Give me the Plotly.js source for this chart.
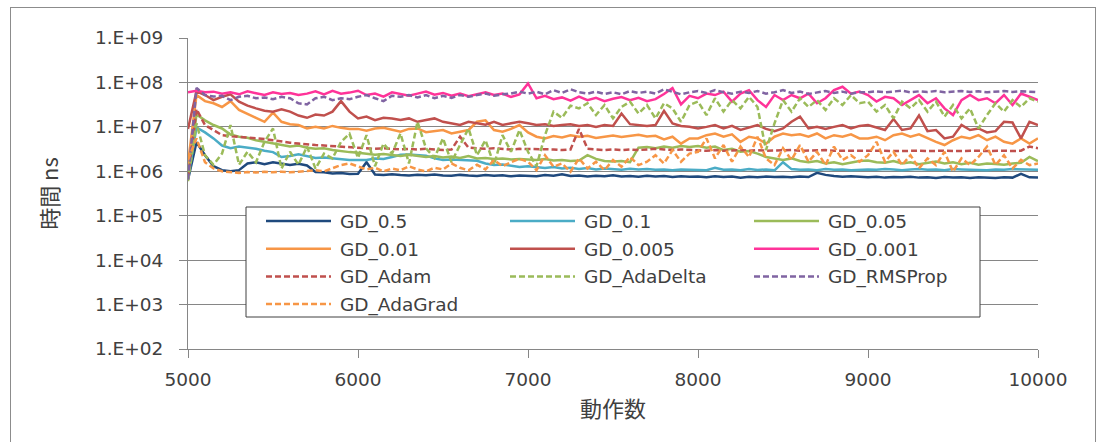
<!DOCTYPE html>
<html>
<head>
<meta charset="utf-8">
<script src="https://cdn.plot.ly/plotly-3.0.1.min.js"></script>
<style>
  html, body { margin: 0; padding: 0; background: #ffffff; }
  #frame { position: absolute; left: 10px; top: 7px; width: 1086px; height: 470px;
           border: 1px solid #8c8c8c; box-sizing: border-box; }
  #chart { position: absolute; left: 0; top: 0; width: 1099px; height: 442px; }
</style>
</head>
<body>
<div id="frame"></div>
<div id="chart"></div>
<script>
// Number of actions (x axis)
const actions = [
  5000, 5050, 5100, 5150, 5200, 5250, 5300, 5350, 5400, 5450,
  5500, 5550, 5600, 5650, 5700, 5750, 5800, 5850, 5900, 5950,
  6000, 6050, 6100, 6150, 6200, 6250, 6300, 6350, 6400, 6450,
  6500, 6550, 6600, 6650, 6700, 6750, 6800, 6850, 6900, 6950,
  7000, 7050, 7100, 7150, 7200, 7250, 7300, 7350, 7400, 7450,
  7500, 7550, 7600, 7650, 7700, 7750, 7800, 7850, 7900, 7950,
  8000, 8050, 8100, 8150, 8200, 8250, 8300, 8350, 8400, 8450,
  8500, 8550, 8600, 8650, 8700, 8750, 8800, 8850, 8900, 8950,
  9000, 9050, 9100, 9150, 9200, 9250, 9300, 9350, 9400, 9450,
  9500, 9550, 9600, 9650, 9700, 9750, 9800, 9850, 9900, 9950,
  10000
];

// Elapsed time in ns for each optimiser
const gd_0_5 = [
  6.5e5, 4.5e6, 2.3e6, 1.3e6, 1.06e6, 1.0e6, 1.06e6, 1.5e6, 1.6e6, 1.45e6,
  1.6e6, 1.5e6, 1.38e6, 1.48e6, 1.35e6, 9.6e5, 9.5e5, 8.9e5, 9.2e5, 8.7e5,
  8.8e5, 1.6e6, 8.5e5, 8.3e5, 8.6e5, 8.2e5, 8.0e5, 8.4e5, 8.1e5, 8.5e5,
  8.0e5, 7.9e5, 8.3e5, 8.0e5, 7.8e5, 8.2e5, 7.9e5, 8.1e5, 7.7e5, 8.0e5,
  8.0e5, 7.7e5, 8.2e5, 7.9e5, 8.6e5, 7.8e5, 8.0e5, 7.6e5, 7.9e5, 7.7e5,
  8.1e5, 7.6e5, 7.8e5, 7.5e5, 7.9e5, 7.6e5, 7.8e5, 7.4e5, 7.7e5, 7.5e5,
  7.6e5, 7.3e5, 7.7e5, 7.4e5, 7.6e5, 7.2e5, 7.5e5, 7.3e5, 7.6e5, 7.4e5,
  7.5e5, 7.3e5, 7.6e5, 7.4e5, 9.2e5, 8.3e5, 7.8e5, 7.5e5, 7.7e5, 7.4e5,
  7.3e5, 7.5e5, 7.2e5, 7.4e5, 7.3e5, 7.5e5, 7.2e5, 7.3e5, 7.1e5, 7.4e5,
  7.2e5, 7.3e5, 7.1e5, 7.3e5, 7.2e5, 7.1e5, 7.3e5, 7.2e5, 8.8e5, 7.3e5,
  7.2e5
];
const gd_0_1 = [
  7.0e5, 9.7e6, 7.5e6, 5.5e6, 3.8e6, 3.3e6, 3.6e6, 3.4e6, 3.2e6, 2.9e6,
  2.7e6, 2.1e6, 2.2e6, 2.4e6, 2.15e6, 2.0e6, 2.05e6, 1.95e6, 1.9e6, 1.8e6,
  1.8e6, 1.8e6, 1.95e6, 1.9e6, 2.1e6, 2.35e6, 2.4e6, 2.3e6, 2.25e6, 1.95e6,
  1.8e6, 1.85e6, 1.82e6, 1.77e6, 1.72e6, 1.5e6, 1.38e6, 1.42e6, 1.34e6, 1.25e6,
  1.3e6, 1.22e6, 1.18e6, 1.25e6, 1.15e6, 1.2e6, 1.12e6, 1.18e6, 1.1e6, 1.15e6,
  1.12e6, 1.08e6, 1.14e6, 1.1e6, 1.12e6, 1.08e6, 1.1e6, 1.06e6, 1.1e6, 1.08e6,
  1.1e6, 1.06e6, 1.2e6, 1.08e6, 1.1e6, 1.05e6, 1.12e6, 1.07e6, 1.1e6, 1.05e6,
  1.6e6, 1.12e6, 1.08e6, 1.1e6, 1.06e6, 1.12e6, 1.08e6, 1.1e6, 1.06e6, 1.1e6,
  1.1e6, 1.08e6, 1.12e6, 1.1e6, 1.06e6, 1.1e6, 1.12e6, 1.08e6, 1.1e6, 1.06e6,
  1.12e6, 1.1e6, 1.08e6, 1.1e6, 1.05e6, 1.1e6, 1.08e6, 1.12e6, 1.1e6, 1.06e6,
  1.08e6
];
const gd_0_05 = [
  8.0e5, 1.9e7, 1.4e7, 1.1e7, 9.2e6, 6.7e6, 6.0e6, 5.7e6, 5.0e6, 4.6e6,
  4.2e6, 3.9e6, 3.6e6, 3.8e6, 3.4e6, 3.2e6, 3.3e6, 3.0e6, 2.9e6, 2.7e6,
  2.6e6, 2.5e6, 2.35e6, 2.45e6, 2.3e6, 2.2e6, 2.35e6, 2.25e6, 2.1e6, 2.2e6,
  2.05e6, 2.15e6, 2.0e6, 2.2e6, 1.95e6, 2.0e6, 1.9e6, 1.95e6, 1.85e6, 1.9e6,
  1.85e6, 1.8e6, 1.9e6, 1.75e6, 1.8e6, 1.7e6, 1.75e6, 2.3e6, 1.9e6, 1.7e6,
  1.65e6, 1.7e6, 1.6e6, 3.4e6, 3.5e6, 3.3e6, 3.6e6, 3.4e6, 3.7e6, 3.5e6,
  3.7e6, 3.4e6, 3.6e6, 3.0e6, 3.2e6, 2.75e6, 2.85e6, 2.5e6, 2.1e6, 1.95e6,
  1.8e6, 1.95e6, 1.7e6, 1.6e6, 1.7e6, 1.5e6, 1.6e6, 1.45e6, 1.6e6, 1.7e6,
  1.75e6, 1.6e6, 1.55e6, 1.7e6, 1.5e6, 1.6e6, 1.45e6, 1.55e6, 1.65e6, 1.5e6,
  1.6e6, 1.45e6, 1.55e6, 1.4e6, 1.5e6, 1.45e6, 1.4e6, 1.5e6, 1.55e6, 2.1e6,
  1.7e6
];
const gd_0_01 = [
  1.5e6, 5.2e7, 3.8e7, 3.4e7, 2.8e7, 3.8e7, 2.4e7, 2.0e7, 1.6e7, 1.3e7,
  2.1e7, 1.3e7, 1.15e7, 1.1e7, 9.2e6, 1.0e7, 9.2e6, 1.05e7, 9.5e6, 9.0e6,
  9.0e6, 8.2e6, 9.2e6, 9.5e6, 8.5e6, 7.8e6, 9.0e6, 9.2e6, 7.6e6, 8.0e6,
  8.5e6, 7.1e6, 7.8e6, 8.5e6, 1.3e7, 1.4e7, 8.5e6, 7.8e6, 9.0e6, 1.1e7,
  7.5e6, 6.0e6, 5.5e6, 6.2e6, 5.8e6, 6.5e6, 6.0e6, 6.3e6, 5.6e6, 6.0e6,
  6.4e6, 5.9e6, 6.2e6, 6.6e6, 6.1e6, 6.3e6, 5.2e6, 6.0e6, 4.2e6, 5.5e6,
  5.5e6, 6.5e6, 7.1e6, 6.0e6, 6.8e6, 4.6e6, 6.0e6, 5.5e6, 4.2e6, 6.0e6,
  7.1e6, 6.5e6, 6.8e6, 6.0e6, 7.1e6, 5.5e6, 6.5e6, 6.0e6, 6.8e6, 5.5e6,
  5.5e6, 6.0e6, 5.0e6, 6.5e6, 7.1e6, 6.0e6, 6.8e6, 5.5e6, 4.6e6, 3.9e6,
  5.0e6, 6.0e6, 5.5e6, 6.5e6, 5.0e6, 6.0e6, 4.6e6, 4.2e6, 5.5e6, 4.2e6,
  5.5e6
];
const gd_0_005 = [
  9.0e6, 6.3e7, 5.2e7, 4.0e7, 4.75e7, 5.4e7, 3.7e7, 3.0e7, 2.6e7, 2.3e7,
  2.2e7, 2.5e7, 2.2e7, 1.8e7, 1.6e7, 1.9e7, 1.8e7, 2.2e7, 3.8e7, 2.2e7,
  1.55e7, 1.7e7, 1.42e7, 1.6e7, 1.55e7, 1.42e7, 1.55e7, 1.3e7, 1.42e7, 1.55e7,
  1.3e7, 1.2e7, 1.1e7, 1.3e7, 1.2e7, 1.12e7, 1.3e7, 1.1e7, 1.2e7, 1.3e7,
  1.2e7, 1.1e7, 1.15e7, 1.05e7, 1.1e7, 1.15e7, 1.05e7, 1.1e7, 1.0e7, 1.1e7,
  1.05e7, 2.0e7, 1.15e7, 1.1e7, 1.05e7, 1.1e7, 2.3e7, 1.2e7, 1.05e7, 1.0e7,
  9.2e6, 1.0e7, 1.1e7, 9.2e6, 1.05e7, 8.5e6, 9.5e6, 1.1e7, 9.0e6, 8.0e6,
  9.2e6, 1.3e7, 1.7e7, 9.2e6, 1.0e7, 9.0e6, 1.0e7, 1.1e7, 9.2e6, 1.05e7,
  1.1e7, 9.5e6, 8.5e6, 1.5e7, 8.5e6, 9.2e6, 1.8e7, 8.0e6, 8.5e6, 5.5e6,
  6.0e6, 1.1e7, 8.5e6, 9.2e6, 7.5e6, 8.0e6, 1.3e7, 1.25e7, 5.5e6, 1.3e7,
  1.1e7
];
const gd_0_001 = [
  6.0e7, 6.5e7, 6.0e7, 6.2e7, 5.6e7, 6.0e7, 5.4e7, 6.3e7, 5.7e7, 5.2e7,
  6.0e7, 5.5e7, 5.8e7, 5.2e7, 5.6e7, 6.3e7, 5.4e7, 6.5e7, 5.6e7, 5.9e7,
  6.5e7, 5.2e7, 5.6e7, 4.8e7, 6.0e7, 5.5e7, 5.0e7, 5.6e7, 6.2e7, 5.3e7,
  5.8e7, 5.0e7, 5.6e7, 4.9e7, 5.5e7, 6.0e7, 5.2e7, 5.6e7, 4.7e7, 5.4e7,
  9.5e7, 4.4e7, 5.0e7, 4.2e7, 4.6e7, 3.9e7, 4.8e7, 4.0e7, 4.5e7, 3.8e7,
  4.3e7, 4.7e7, 4.0e7, 4.5e7, 3.8e7, 4.2e7, 5.5e7, 7.5e7, 3.2e7, 5.0e7,
  4.4e7, 5.6e7, 5.2e7, 6.2e7, 3.7e7, 5.6e7, 6.7e7, 4.0e7, 2.8e7, 5.2e7,
  4.0e7, 5.2e7, 4.4e7, 5.6e7, 3.4e7, 4.4e7, 6.7e7, 8.0e7, 5.6e7, 6.2e7,
  5.2e7, 3.7e7, 4.75e7, 4.4e7, 3.1e7, 4.0e7, 5.2e7, 3.4e7, 4.4e7, 2.6e7,
  1.84e7, 4.0e7, 5.2e7, 4.0e7, 4.4e7, 3.4e7, 5.2e7, 3.1e7, 5.6e7, 4.75e7,
  4.0e7
];
const gd_adam = [
  7.0e5, 2.5e7, 1.1e7, 8.5e6, 6.5e6, 6.2e6, 6.0e6, 5.8e6, 5.6e6, 5.3e6,
  5.0e6, 4.6e6, 4.4e6, 4.2e6, 4.0e6, 3.9e6, 3.8e6, 3.7e6, 3.6e6, 3.4e6,
  3.3e6, 3.3e6, 3.2e6, 3.3e6, 3.2e6, 3.1e6, 3.2e6, 3.1e6, 3.2e6, 3.1e6,
  3.0e6, 3.1e6, 6.0e6, 3.4e6, 3.3e6, 3.2e6, 3.3e6, 3.2e6, 3.1e6, 3.2e6,
  3.2e6, 3.1e6, 3.2e6, 3.1e6, 3.0e6, 3.1e6, 9.0e6, 3.2e6, 3.1e6, 3.0e6,
  3.1e6, 3.0e6, 3.1e6, 3.0e6, 3.1e6, 3.2e6, 3.1e6, 3.0e6, 3.1e6, 3.0e6,
  3.0e6, 2.9e6, 3.0e6, 2.9e6, 2.95e6, 3.0e6, 2.9e6, 3.0e6, 2.9e6, 2.95e6,
  2.9e6, 3.0e6, 2.9e6, 2.95e6, 2.9e6, 3.0e6, 2.9e6, 2.9e6, 3.0e6, 2.9e6,
  2.9e6, 2.95e6, 2.9e6, 2.85e6, 2.9e6, 2.95e6, 2.9e6, 2.85e6, 2.9e6, 2.9e6,
  2.85e6, 2.9e6, 2.95e6, 2.9e6, 2.85e6, 2.9e6, 2.9e6, 2.85e6, 2.9e6, 3.6e6,
  3.3e6
];
const gd_adadelta = [
  6.0e5, 1.2e7, 2.3e6, 1.4e6, 2.5e6, 1.1e7, 1.4e6, 2.75e6, 1.6e6, 4.6e6,
  9.2e6, 1.15e6, 2.75e6, 1.4e6, 3.6e6, 1.15e6, 2.5e6, 1.95e6, 4.6e6, 7.0e6,
  2.0e6, 6.5e6, 1.3e6, 4.2e6, 2.5e6, 7.1e6, 1.5e6, 1.3e7, 3.3e6, 2.0e6,
  5.5e6, 1.6e6, 3.9e6, 9.2e6, 2.3e6, 5.0e6, 1.4e6, 6.5e6, 2.75e6, 8.5e6,
  2.75e6, 1.3e6, 6.5e6, 2.2e7, 1.6e7, 3.0e7, 2.6e7, 3.4e7, 1.84e7, 3.1e7,
  1.55e7, 2.8e7, 3.7e7, 2.0e7, 3.1e7, 1.55e7, 3.4e7, 2.6e7, 1.3e7, 3.1e7,
  3.7e7, 1.84e7, 4.4e7, 2.2e7, 4.0e7, 2.6e7, 4.75e7, 2.8e7, 3.0e6, 1.2e7,
  4.0e7, 2.2e7, 4.4e7, 2.8e7, 4.0e7, 2.4e7, 4.4e7, 3.1e7, 5.2e7, 3.4e7,
  3.7e7, 2.2e7, 3.1e7, 1.55e7, 3.7e7, 2.6e7, 4.0e7, 2.2e7, 3.7e7, 1.7e7,
  3.1e7, 1.55e7, 2.6e7, 9.2e6, 1.84e7, 3.4e7, 2.2e7, 4.0e7, 2.8e7, 4.4e7,
  3.7e7
];
const gd_rmsprop = [
  6.5e5, 7.5e7, 5.2e7, 4.8e7, 5.0e7, 4.0e7, 4.75e7, 5.0e7, 4.4e7, 4.6e7,
  4.2e7, 4.75e7, 4.4e7, 3.4e7, 3.2e7, 4.4e7, 4.75e7, 4.0e7, 4.4e7, 4.2e7,
  4.75e7, 5.2e7, 4.4e7, 3.8e7, 5.0e7, 4.75e7, 5.2e7, 4.6e7, 5.2e7, 4.4e7,
  5.0e7, 4.5e7, 5.2e7, 4.75e7, 5.2e7, 5.6e7, 5.0e7, 5.4e7, 5.6e7, 6.2e7,
  5.6e7, 6.2e7, 5.4e7, 6.7e7, 5.8e7, 7.0e7, 6.0e7, 5.6e7, 6.2e7, 5.5e7,
  6.0e7, 5.4e7, 6.4e7, 5.8e7, 6.2e7, 5.6e7, 7.0e7, 6.2e7, 5.4e7, 6.0e7,
  6.4e7, 5.8e7, 6.7e7, 6.0e7, 5.6e7, 6.2e7, 5.8e7, 6.4e7, 5.6e7, 6.0e7,
  6.7e7, 5.8e7, 6.2e7, 5.5e7, 6.0e7, 6.4e7, 5.8e7, 6.2e7, 5.6e7, 6.0e7,
  6.0e7, 6.3e7, 6.0e7, 6.2e7, 6.5e7, 6.0e7, 6.3e7, 6.1e7, 6.4e7, 6.0e7,
  6.2e7, 6.4e7, 6.1e7, 6.3e7, 6.0e7, 6.2e7, 6.4e7, 6.1e7, 6.3e7, 6.2e7,
  6.0e7
];
const gd_adagrad = [
  1.8e6, 5.5e6, 1.6e6, 1.16e6, 1.0e6, 9.6e5, 9.2e5, 9.6e5, 9.4e5, 9.8e5,
  9.5e5, 9.8e5, 9.5e5, 9.8e5, 1.0e6, 1.05e6, 1.0e6, 1.16e6, 1.38e6, 1.5e6,
  1.3e6, 1.1e6, 1.2e6, 1.0e6, 1.15e6, 1.05e6, 1.3e6, 1.1e6, 1.0e6, 1.2e6,
  1.1e6, 1.5e6, 1.2e6, 1.05e6, 1.4e6, 1.1e6, 1.8e6, 1.3e6, 1.6e6, 1.9e6,
  1.64e6, 1.06e6, 2.3e6, 1.27e6, 1.5e6, 9.8e5, 1.95e6, 1.16e6, 1.64e6, 1.06e6,
  1.8e6, 1.27e6, 2.1e6, 1.38e6, 1.64e6, 2.3e6, 1.5e6, 3.0e6, 1.64e6, 2.5e6,
  2.75e6, 5.5e6, 1.95e6, 3.9e6, 1.64e6, 3.6e6, 2.1e6, 6.0e6, 1.95e6, 1.38e6,
  3.3e6, 1.8e6, 3.9e6, 1.64e6, 2.75e6, 1.38e6, 3.6e6, 1.8e6, 2.3e6, 1.64e6,
  2.3e6, 4.6e6, 1.64e6, 2.75e6, 1.38e6, 2.3e6, 1.16e6, 1.95e6, 1.38e6, 2.75e6,
  9.8e5, 1.95e6, 1.38e6, 2.1e6, 3.6e6, 1.38e6, 2.3e6, 1.16e6, 1.8e6, 1.38e6,
  1.5e6
];

const seriesNames = ['GD_0.5', 'GD_0.1', 'GD_0.05', 'GD_0.01', 'GD_0.005',
                     'GD_0.001', 'GD_Adam', 'GD_AdaDelta', 'GD_RMSProp', 'GD_AdaGrad'];
const seriesValues = [gd_0_5, gd_0_1, gd_0_05, gd_0_01, gd_0_005,
                      gd_0_001, gd_adam, gd_adadelta, gd_rmsprop, gd_adagrad];
const seriesColors = ['#1F497D', '#4BACC6', '#9BBB59', '#F79646', '#C0504D',
                      '#FF3399', '#C0504D', '#9BBB59', '#8064A2', '#F79646'];
const seriesDash = ['solid', 'solid', 'solid', 'solid', 'solid',
                    'solid', '6px,3px', '6px,3px', '6px,3px', '6px,3px'];

const yTickVals = [1e2, 1e3, 1e4, 1e5, 1e6, 1e7, 1e8, 1e9];
const yTickText = ['1.E+02', '1.E+03', '1.E+04', '1.E+05', '1.E+06', '1.E+07', '1.E+08', '1.E+09'];
const xTickVals = [5000, 6000, 7000, 8000, 9000, 10000];
const xTickText = ['5000', '6000', '7000', '8000', '9000', '10000'];

// plot area in pixels
const W = 1099, H = 442;
const M = { l: 188, r: 61, t: 38, b: 93 };
const PW = W - M.l - M.r, PH = H - M.t - M.b;
const px2x = px => (px - M.l) / PW;
const py2y = py => (H - M.b - py) / PH;

const FONT = 'DejaVu Sans, Noto Sans CJK JP, sans-serif';
const CJK = 'Noto Sans CJK JP, sans-serif';
const TEXT = '#404040';
const GRID = '#868686';

const traces = seriesNames.map((name, i) => ({
  type: 'scatter',
  mode: 'lines',
  name: name,
  x: actions,
  y: seriesValues[i],
  line: { color: seriesColors[i], width: 2.5, dash: seriesDash[i] },
  showlegend: false
}));

// boxed three-column key inside the plot area
const shapes = [{
  type: 'rect', xref: 'paper', yref: 'paper',
  x0: px2x(246), x1: px2x(980), y0: py2y(317), y1: py2y(207),
  line: { color: '#404040', width: 1 }, fillcolor: '#ffffff', layer: 'above'
}];
const annotations = [];
const keyCol0 = 266, keyColStep = 244, keyRow0 = 221, keyRowStep = 27.7, keyLen = 65, keyGap = 7;
seriesNames.forEach((name, i) => {
  const col = i % 3, row = Math.floor(i / 3);
  const lx = keyCol0 + col * keyColStep;
  const ly = keyRow0 + row * keyRowStep;
  shapes.push({
    type: 'line', xref: 'paper', yref: 'paper',
    x0: px2x(lx), x1: px2x(lx + keyLen), y0: py2y(ly), y1: py2y(ly),
    line: { color: seriesColors[i], width: 2.5, dash: seriesDash[i] }, layer: 'above'
  });
  annotations.push({
    xref: 'paper', yref: 'paper', x: px2x(lx + keyLen + keyGap), y: py2y(ly + 1),
    xanchor: 'left', yanchor: 'middle', showarrow: false, text: name,
    font: { family: FONT, size: 18.5, color: TEXT }
  });
});

const layout = {
  width: W, height: H,
  margin: M,
  paper_bgcolor: 'rgba(0,0,0,0)',
  plot_bgcolor: 'rgba(0,0,0,0)',
  showlegend: false,
  xaxis: {
    range: [5000, 10000],
    tickvals: xTickVals, ticktext: xTickText,
    ticks: 'outside', ticklen: 8, tickcolor: GRID, tickwidth: 1,
    showline: true, linecolor: GRID, linewidth: 1,
    showgrid: false, zeroline: false,
    ticklabelstandoff: 6,
    tickfont: { family: FONT, size: 18.5, color: TEXT },
    title: { text: '動作数', font: { family: CJK, size: 22, color: TEXT }, standoff: 12 }
  },
  yaxis: {
    type: 'log',
    range: [2, 9],
    tickvals: yTickVals, ticktext: yTickText,
    ticks: 'outside', ticklen: 8, tickcolor: GRID, tickwidth: 1,
    showline: true, linecolor: GRID, linewidth: 1,
    showgrid: true, gridcolor: GRID, gridwidth: 1, zeroline: false,
    ticklabelstandoff: 12,
    tickfont: { family: FONT, size: 18.5, color: TEXT },
    title: { text: '時間 ns', font: { family: CJK, size: 22, color: TEXT }, standoff: 30 }
  },
  shapes: shapes,
  annotations: annotations
};

Plotly.newPlot('chart', traces, layout, { staticPlot: true, displayModeBar: false });
</script>
</body>
</html>
